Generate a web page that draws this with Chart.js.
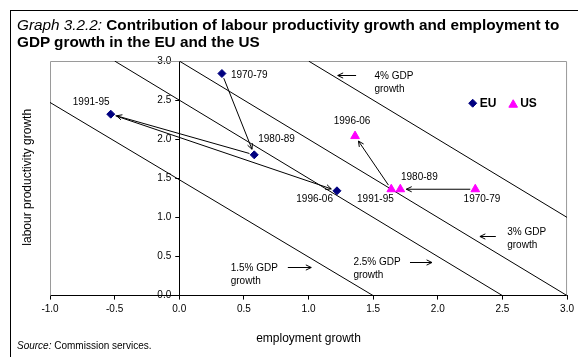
<!DOCTYPE html>
<html><head><meta charset="utf-8">
<script src="https://cdn.jsdelivr.net/npm/chart.js@4.4.0/dist/chart.umd.min.js"></script>
<style>
html,body{margin:0;padding:0;width:578px;height:357px;overflow:hidden;background:#fff;font-family:"Liberation Sans",Arial,sans-serif;color:#000;}
#frame{position:absolute;left:10px;top:10px;width:700px;height:500px;border:1px solid #000;}
#wrap{position:absolute;left:0;top:0;width:578px;height:357px;}
#title{position:absolute;left:17px;top:16px;font-size:15.3px;line-height:17px;white-space:nowrap;}
#title i{font-weight:normal;}
#source{position:absolute;left:17px;top:340px;font-size:10px;line-height:12px;white-space:nowrap;}
</style></head>
<body>
<div id="frame"></div>
<div id="wrap"><canvas id="c"></canvas></div>
<div id="title"><i>Graph 3.2.2:</i> <b>Contribution of labour productivity growth and employment to<br>GDP growth in the EU and the US</b></div>
<div id="source"><i>Source:</i> Commission services.</div>
<script>
// ---- data ----
const periods = ['1970-79', '1980-89', '1991-95', '1996-06'];
const euEmployment   = [0.33, 0.58, -0.53, 1.22];
const euProductivity = [2.84, 1.80, 2.32, 1.34];
const usEmployment   = [2.29, 1.71, 1.64, 1.36];
const usProductivity = [1.36, 1.36, 1.36, 2.04];
const xTickValues = [-1.0, -0.5, 0.0, 0.5, 1.0, 1.5, 2.0, 2.5, 3.0];
const yTickValues = [0.0, 0.5, 1.0, 1.5, 2.0, 2.5, 3.0];
const gdpLabels = ['1.5% GDP', '2.5% GDP', '3% GDP', '4% GDP'];
const gdpLineStartX = [-1.0, -0.5, 0.0, 1.0];
const gdpLineStartY = [2.47, 3.0, 3.0, 3.0];
const gdpLineEndX   = [1.5, 2.5, 3.0, 3.0];
const gdpLineEndY   = [0.0, 0.0, 0.0, 1.0];
// transitions between periods (index pairs)
const euMoves = [[0, 1], [1, 2], [2, 3]];
const usMoves = [[0, 1], [2, 3]];

// ---- styles / placement ----
const FONT = '"Liberation Sans", Arial, sans-serif';
Chart.defaults.font.family = FONT;
Chart.defaults.color = '#000';
const EU_COLOR = '#000080', US_COLOR = '#ff00ff';
// point label placement: [dx, dy, align]
const euLabelPos = [[9, 2, 'left'], [4, -16, 'left'], [-19.6, -11.7, 'center'], [-4, 8.5, 'right']];
const usLabelPos = [[6.7, 10.3, 'center'], [0.7, -12, 'left'], [2.5, 9.6, 'right'], [-3, -14.7, 'center']];
// GDP note placement in value space: text left x, text y, arrow from x, arrow to x, arrow y
const gdpNotePos = [
  {tx: 0.398, ty: 0.350, ax1: 0.840, ax2: 1.021, ay: 0.372},
  {tx: 1.347, ty: 0.429, ax1: 1.785, ax2: 1.955, ay: 0.427},
  {tx: 2.537, ty: 0.804, ax1: 2.449, ax2: 2.326, ay: 0.760},
  {tx: 1.510, ty: 2.808, ax1: 1.368, ax2: 1.226, ay: 2.820}
];

function drawArrow(ctx, x1, y1, x2, y2) {
  const ang = Math.atan2(y2 - y1, x2 - x1);
  const hl = 6, ha = 0.45;
  ctx.beginPath();
  ctx.moveTo(x1, y1); ctx.lineTo(x2, y2);
  ctx.moveTo(x2 - hl * Math.cos(ang - ha), y2 - hl * Math.sin(ang - ha));
  ctx.lineTo(x2, y2);
  ctx.lineTo(x2 - hl * Math.cos(ang + ha), y2 - hl * Math.sin(ang + ha));
  ctx.stroke();
}

const decor = {
  id: 'decor',
  afterLayout(chart) {
    // place the y axis on employment growth = 0
    const ys = chart.scales.y;
    const px = chart.scales.x.getPixelForValue(0);
    ys.right = px; ys.left = px - 40; ys.width = 40;
  },
  beforeDatasetsDraw(chart) {
    const {ctx, chartArea: a} = chart;
    ctx.save();
    ctx.strokeStyle = '#9a9a9a';
    ctx.lineWidth = 1;
    ctx.beginPath();
    ctx.moveTo(a.left + 0.5, a.bottom); ctx.lineTo(a.left + 0.5, a.top + 0.5);
    ctx.lineTo(a.right - 0.5, a.top + 0.5); ctx.lineTo(a.right - 0.5, a.bottom);
    ctx.stroke();
    // movement arrows
    ctx.strokeStyle = '#000';
    const moves = [[0, euMoves], [1, usMoves]];
    moves.forEach(([di, list]) => {
      const pts = chart.getDatasetMeta(di).data;
      list.forEach(([i, j]) => {
        const p = pts[i], q = pts[j];
        const dx = q.x - p.x, dy = q.y - p.y, L = Math.hypot(dx, dy);
        const ux = dx / L, uy = dy / L;
        drawArrow(ctx, p.x + ux * 5, p.y + uy * 5, q.x - ux * 6, q.y - uy * 6);
      });
    });
    ctx.restore();
  },
  afterDatasetsDraw(chart) {
    const {ctx, scales: {x, y}, chartArea: a} = chart;
    ctx.save();
    ctx.fillStyle = '#000';
    ctx.strokeStyle = '#000';
    ctx.lineWidth = 1;
    ctx.font = '10px ' + FONT;
    ctx.textBaseline = 'middle';
    // period labels
    [[0, euLabelPos], [1, usLabelPos]].forEach(([di, pos]) => {
      const pts = chart.getDatasetMeta(di).data;
      pts.forEach((p, i) => {
        const [dx, dy, al] = pos[i];
        ctx.textAlign = al;
        ctx.fillText(periods[i], p.x + dx, p.y + dy);
      });
    });
    // GDP notes
    ctx.textAlign = 'left';
    gdpNotePos.forEach((n, i) => {
      const tx = x.getPixelForValue(n.tx), ty = y.getPixelForValue(n.ty);
      ctx.fillText(gdpLabels[i], tx, ty);
      ctx.fillText('growth', tx, ty + 13);
      const ay = Math.round(y.getPixelForValue(n.ay)) + 0.5;
      drawArrow(ctx, x.getPixelForValue(n.ax1), ay, x.getPixelForValue(n.ax2), ay);
    });
    // legend
    ctx.font = 'bold 12px ' + FONT;
    const ly = y.getPixelForValue(2.46);
    let lx = x.getPixelForValue(2.27);
    chart.data.datasets.slice(0, 2).forEach((ds) => {
      ctx.fillStyle = ds.backgroundColor;
      ctx.strokeStyle = ds.borderColor;
      ctx.lineWidth = 1;
      Chart.helpers.drawPoint(ctx, {pointStyle: ds.pointStyle, radius: ds.pointRadius, borderWidth: 1, rotation: 0}, lx, ds.pointStyle === 'triangle' ? ly + 1.5 : ly);
      ctx.fillStyle = '#000';
      ctx.fillText(ds.label, lx + 7, ly + 0.5);
      lx += 40.5;
    });
    // y axis title
    ctx.font = '12px ' + FONT;
    ctx.textAlign = 'center';
    ctx.translate(28, (a.top + a.bottom) / 2 - 1);
    ctx.rotate(-Math.PI / 2);
    ctx.fillText('labour productivity growth', 0, 0);
    ctx.restore();
  }
};

const datasets = [
  {label: 'EU', data: periods.map((p, i) => ({x: euEmployment[i], y: euProductivity[i]})),
   pointStyle: 'rectRot', pointRadius: 4, borderWidth: 1, backgroundColor: EU_COLOR, borderColor: EU_COLOR, order: 0},
  {label: 'US', data: periods.map((p, i) => ({x: usEmployment[i], y: usProductivity[i]})),
   pointStyle: 'triangle', pointRadius: 5, borderWidth: 1, backgroundColor: US_COLOR, borderColor: US_COLOR, order: 0}
];
gdpLabels.forEach((lab, i) => {
  datasets.push({type: 'line', label: lab,
    data: [{x: gdpLineStartX[i], y: gdpLineStartY[i]}, {x: gdpLineEndX[i], y: gdpLineEndY[i]}],
    borderColor: '#000', borderWidth: 1, pointRadius: 0, showLine: true, fill: false, order: 1});
});

new Chart(document.getElementById('c'), {
  type: 'scatter',
  data: {datasets},
  options: {
    responsive: true, maintainAspectRatio: false, animation: false,
    events: [],
    layout: {padding: {left: 50, right: 10, top: 61, bottom: 11}},
    plugins: {legend: {display: false}, tooltip: {enabled: false}},
    scales: {
      x: {
        type: 'linear', position: 'bottom', min: -1, max: 3,
        afterBuildTicks: s => { s.ticks = xTickValues.map(v => ({value: v})); },
        ticks: {font: {size: 10}, color: '#000', padding: 4, maxRotation: 0, autoSkip: false,
                callback: v => Number(v).toFixed(1)},
        grid: {drawOnChartArea: false, drawTicks: true, tickLength: 4, tickColor: '#000'},
        border: {color: '#000', width: 1},
        title: {display: true, text: 'employment growth', font: {size: 12}, color: '#000', padding: {top: 12, bottom: 0}}
      },
      y: {
        type: 'linear', position: 'left', min: 0, max: 3,
        afterFit: s => { s.width = 0; },
        afterBuildTicks: s => { s.ticks = yTickValues.map(v => ({value: v})); },
        ticks: {font: {size: 10}, color: '#000', padding: 4, autoSkip: false,
                callback: v => Number(v).toFixed(1)},
        grid: {drawOnChartArea: false, drawTicks: true, tickLength: 4, tickColor: '#000'},
        border: {color: '#000', width: 1}
      }
    }
  },
  plugins: [decor]
});
</script>
</body></html>
